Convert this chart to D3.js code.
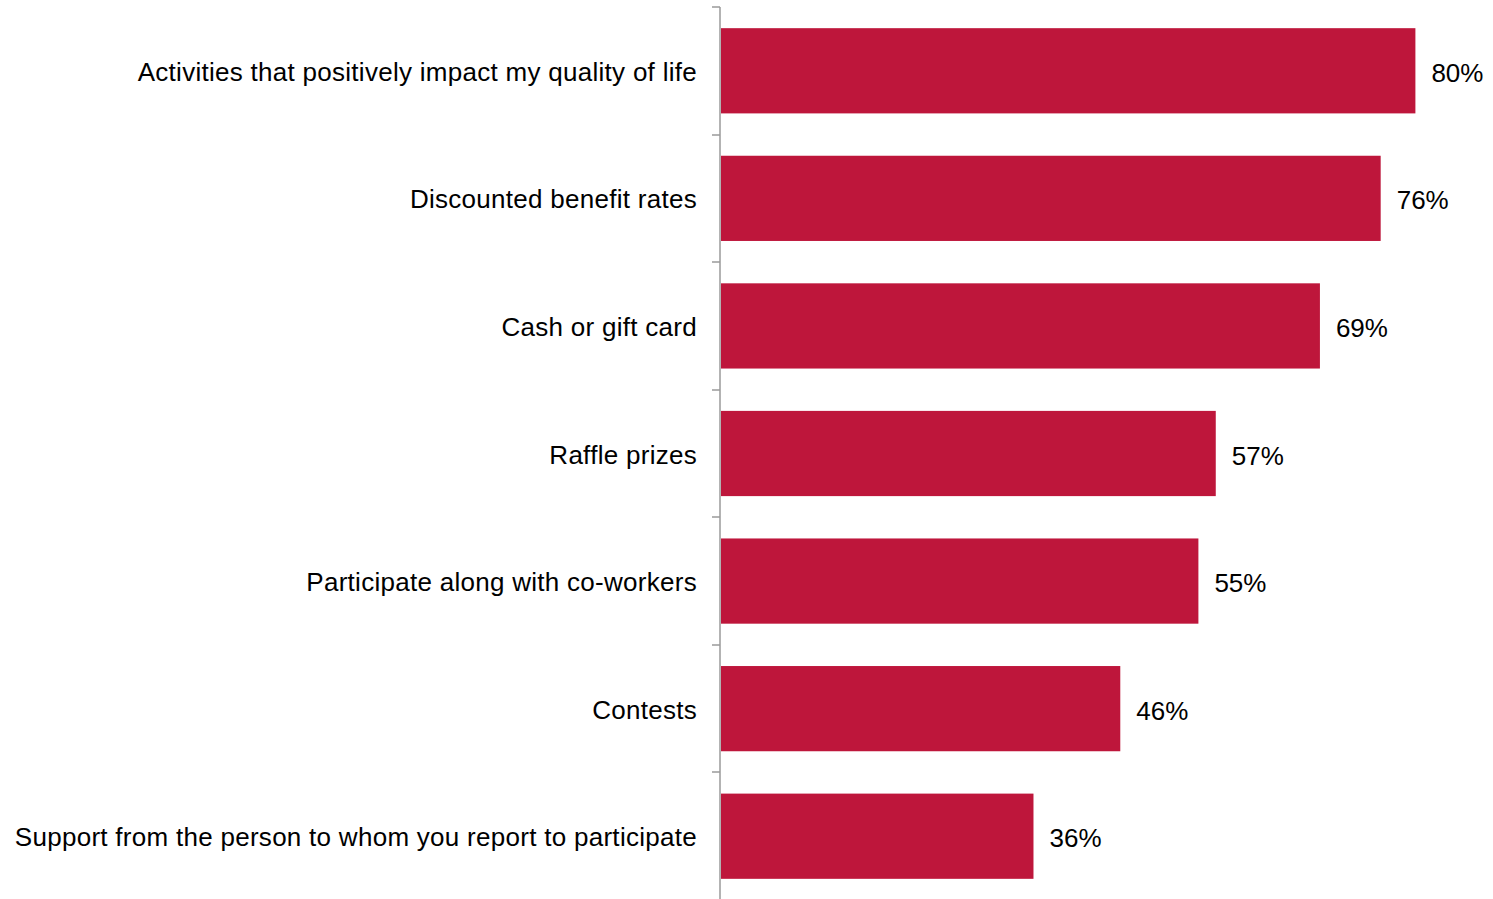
<!DOCTYPE html>
<html><head><meta charset="utf-8">
<script src="https://cdn.jsdelivr.net/npm/d3@7"></script>
<style>body{margin:0;background:#fff;}svg{display:block;}</style>
</head><body>
<svg id="c" width="1493" height="899"></svg>
<script>
const categories = [
  "Activities that positively impact my quality of life",
  "Discounted benefit rates",
  "Cash or gift card",
  "Raffle prizes",
  "Participate along with co-workers",
  "Contests",
  "Support from the person to whom you report to participate"
];
const values = [80, 76, 69, 57, 55, 46, 36];
const valueLabels = ["80%", "76%", "69%", "57%", "55%", "46%", "36%"];

const svg = d3.select("#c");
const font = "'Liberation Sans', Arial, sans-serif";
const axisX = 720;
const y = d3.scaleBand().domain(categories).range([7, 900]).paddingInner(0.332).paddingOuter(0.166);
const x = d3.scaleLinear().domain([0, 100]).range([721, 721 + 868]);

// bars
svg.selectAll("rect.bar").data(values).enter().append("rect")
  .attr("x", x(0)).attr("y", (d, i) => y(categories[i]))
  .attr("width", d => x(d) - x(0)).attr("height", y.bandwidth())
  .attr("fill", "#BE163B");

// axis line and ticks
svg.append("line").attr("x1", axisX).attr("x2", axisX).attr("y1", 7).attr("y2", 899)
  .attr("stroke", "#9a9a9a").attr("stroke-width", 1.5);
const step = y.step();
d3.range(categories.length).forEach(i => {
  const ty = Math.round(7 + i * step);
  svg.append("line").attr("x1", axisX - 8).attr("x2", axisX).attr("y1", ty).attr("y2", ty)
    .attr("stroke", "#9a9a9a").attr("stroke-width", 1.5);
});

// category labels
svg.selectAll("text.cat").data(categories).enter().append("text")
  .attr("x", 697).attr("y", d => y(d) + y.bandwidth() / 2 + 1)
  .attr("text-anchor", "end").attr("dominant-baseline", "central")
  .attr("font-family", font).attr("font-size", 26).attr("letter-spacing", 0.28).attr("fill", "#000")
  .text(d => d);

// value labels
svg.selectAll("text.val").data(values).enter().append("text")
  .attr("x", d => x(d) + 16).attr("y", (d, i) => y(categories[i]) + y.bandwidth() / 2 + 2)
  .attr("dominant-baseline", "central")
  .attr("font-family", font).attr("font-size", 26).attr("fill", "#000")
  .text((d, i) => valueLabels[i]);
</script>
</body></html>
